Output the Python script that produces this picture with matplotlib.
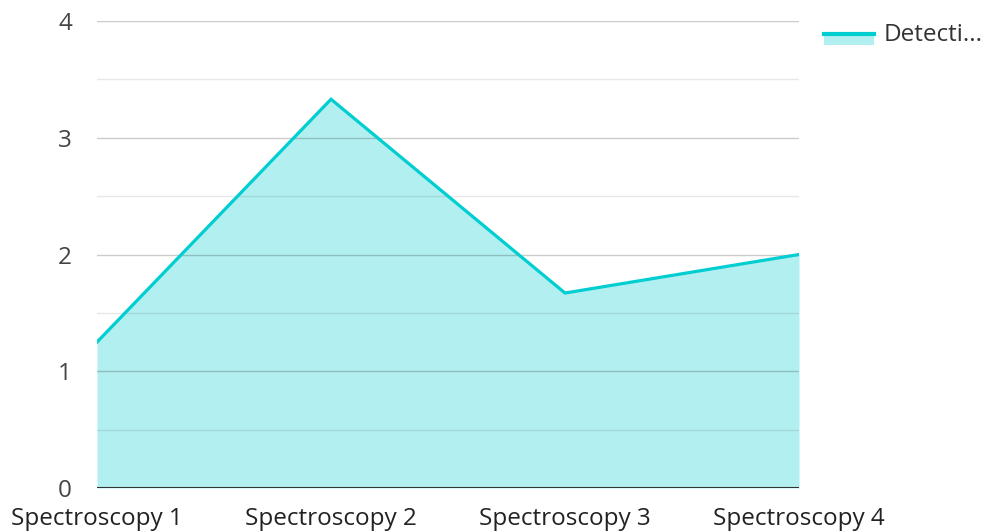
import matplotlib
matplotlib.use("Agg")
from matplotlib import pyplot as plt
from matplotlib.patches import Rectangle
from matplotlib.lines import Line2D
import numpy as np

# Chart data
categories = ["Spectroscopy 1", "Spectroscopy 2", "Spectroscopy 3", "Spectroscopy 4"]
detections = [1.25, 3.33, 1.67, 2.0]
series_name = "Detecti..."

line_color = "#00CED1"
fill_color = "#B2EFF0"

plt.rcParams['font.family'] = ['Open Sans', 'DejaVu Sans']

W, H = 986, 531
fig = plt.figure(figsize=(W / 100, H / 100), dpi=100)
ax = fig.add_axes([97 / W, 1 - 488 / H, (799 - 97) / W, (488 - 21) / H])

x = np.arange(len(categories))
ax.fill_between(x, 0, detections, color=fill_color, lw=0, zorder=1)
ax.plot(x, detections, color=line_color, lw=2.3, zorder=3, solid_joinstyle='miter')

ax.set_xlim(0, len(categories) - 1)
ax.set_ylim(0, 4)

# grid: major every 1, minor every 0.5
for v in np.arange(0.5, 4.0, 1.0):
    ax.axhline(v, color="#000000", alpha=0.09, lw=1, zorder=2)
for v in np.arange(1, 5, 1):
    ax.axhline(v, color="#000000", alpha=0.2, lw=1, zorder=2)
ax.axhline(0, color="#333333", lw=1.5, zorder=4)

for s in ax.spines.values():
    s.set_visible(False)
ax.set_yticks(range(0, 5))
ax.set_xticks(x, categories)
ax.tick_params(axis='both', length=0, labelsize=17.5, colors="#444444")
ax.tick_params(axis='y', pad=18)
ax.tick_params(axis='x', pad=14)
for lbl in ax.get_xticklabels():
    lbl.set_color("#222222")

# legend drawn in figure pixels
fig.patches.append(Rectangle((824 / W, 1 - 45 / H), 50 / W, 13 / H,
                             transform=fig.transFigure, color=fill_color, lw=0))
fig.lines.append(Line2D([824 / W, 874 / W], [1 - 33.5 / H, 1 - 33.5 / H],
                        transform=fig.transFigure, color=line_color, lw=3))
fig.text(884 / W, 1 - 35 / H, series_name, fontsize=17.5, color="#333333",
         va='center', ha='left')

fig.savefig("out.png", dpi=100)
